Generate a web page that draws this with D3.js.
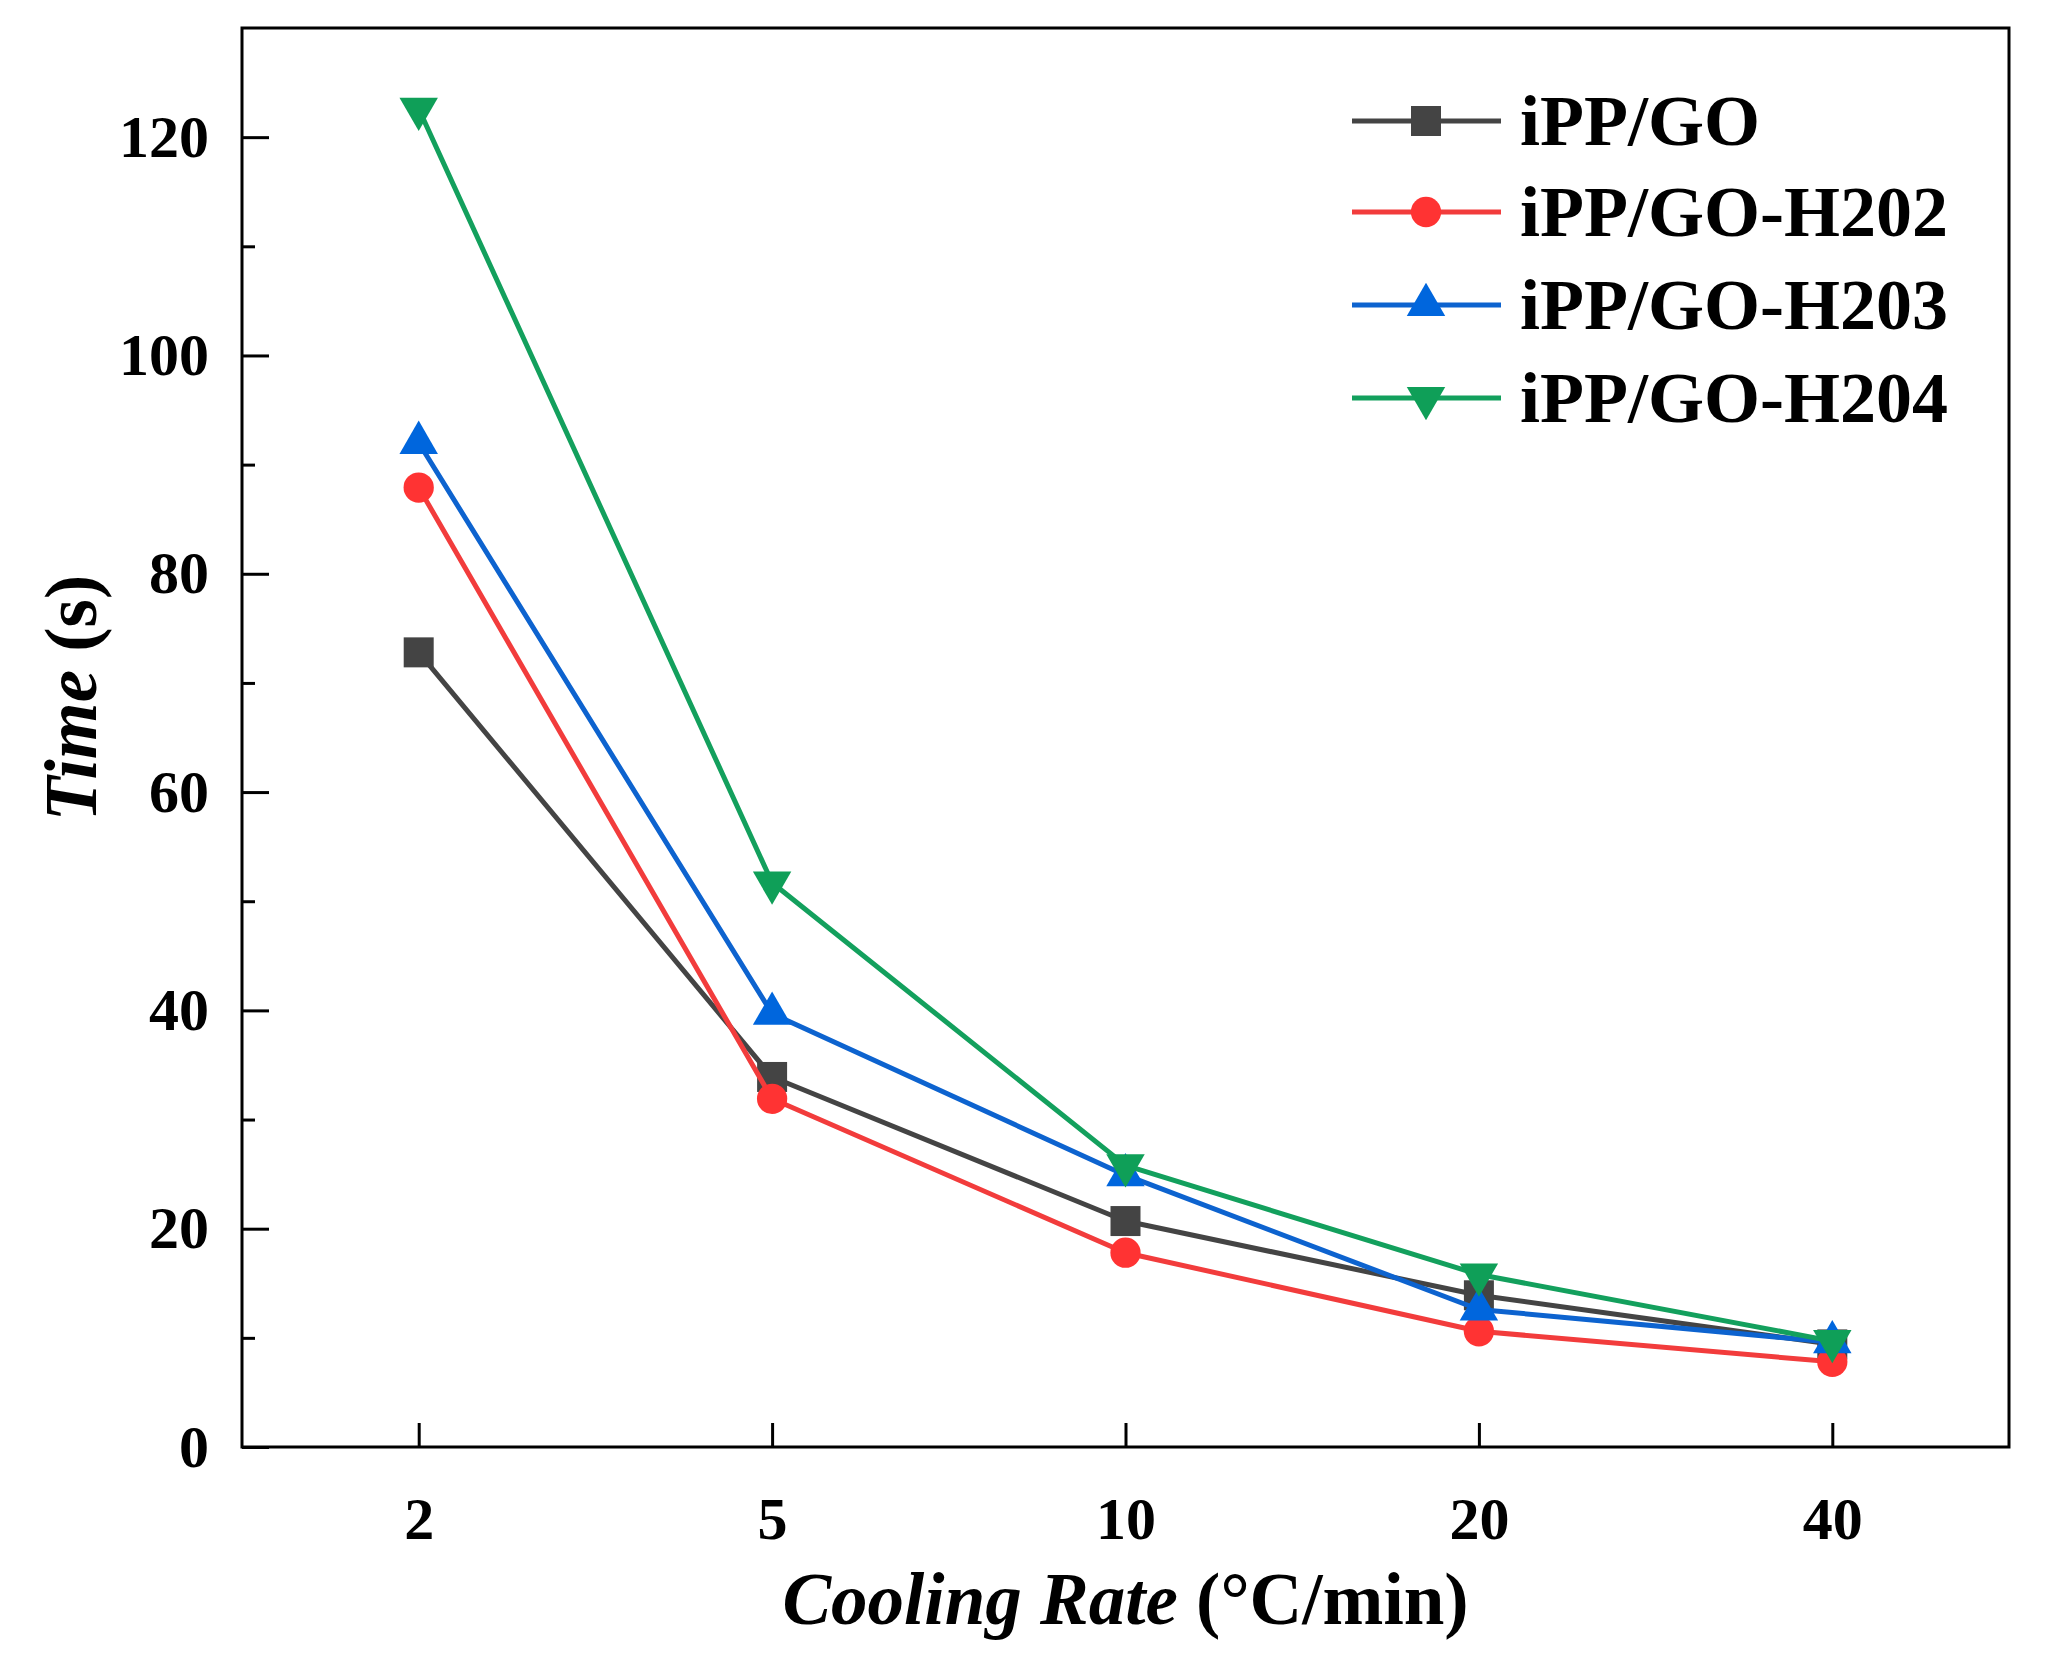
<!DOCTYPE html>
<html>
<head>
<meta charset="utf-8">
<script src="https://cdn.jsdelivr.net/npm/d3@7"></script>
<style>
  html, body { margin: 0; padding: 0; background: #fff; }
  svg { display: block; }
</style>
</head>
<body>
<svg id="chart"></svg>
<script>
// Data
const coolingRates = ["2", "5", "10", "20", "40"];
const seriesNames = ["iPP/GO", "iPP/GO-H202", "iPP/GO-H203", "iPP/GO-H204"];
const ippGo = [72.8, 33.9, 20.7, 13.9, 9.4];
const ippGoH202 = [87.9, 31.9, 17.8, 10.6, 7.8];
const ippGoH203 = [92.0, 39.7, 24.9, 12.6, 9.6];
const ippGoH204 = [122.6, 51.7, 25.8, 15.8, 9.7];
const yTicks = [0, 20, 40, 60, 80, 100, 120];
const yMinorTicks = [10, 30, 50, 70, 90, 110];

const seriesValues = [ippGo, ippGoH202, ippGoH203, ippGoH204];
const colors = ["#444444", "#f23c3c", "#0d63cf", "#13a05d"];
const markerColors = ["#444444", "#ff3333", "#0066dd", "#0f9f58"];
const shapes = ["square", "circle", "up", "down"];

const W = 2050, H = 1676;
const margin = { top: 28, right: 41, bottom: 229, left: 242 };
const width = W - margin.left - margin.right;
const height = H - margin.top - margin.bottom;
const FONT = "'Liberation Serif', 'Times New Roman', serif";

const svg = d3.select("#chart").attr("width", W).attr("height", H);
const g = svg.append("g").attr("transform", `translate(${margin.left},${margin.top})`);

// scales
const x = d3.scaleLinear().domain([0.5, coolingRates.length + 0.5]).range([0, width]);
const y = d3.scaleLinear().domain([0, 130]).range([height, 0]);

// frame
g.append("rect")
  .attr("x", 0).attr("y", 0)
  .attr("width", width).attr("height", height)
  .attr("fill", "none").attr("stroke", "#000").attr("stroke-width", 3);

// y axis ticks (inward)
const yAxis = d3.axisLeft(y).tickValues(yTicks).tickSizeInner(-27).tickSizeOuter(0).tickPadding(33);
const yAxisG = g.append("g").call(yAxis);
yAxisG.select(".domain").remove();
yAxisG.selectAll(".tick line").attr("stroke", "#000").attr("stroke-width", 3);
yAxisG.selectAll(".tick text")
  .attr("font-family", FONT).attr("font-weight", "bold").attr("font-size", 60)
  .attr("fill", "#000");

const yMinorG = g.append("g").call(
  d3.axisLeft(y).tickValues(yMinorTicks).tickSizeInner(-13).tickSizeOuter(0).tickFormat(""));
yMinorG.select(".domain").remove();
yMinorG.selectAll(".tick line").attr("stroke", "#000").attr("stroke-width", 3);

// x axis
const xAxis = d3.axisBottom(x)
  .tickValues(coolingRates.map((d, i) => i + 1))
  .tickFormat((d, i) => coolingRates[i])
  .tickSizeInner(-24).tickSizeOuter(0).tickPadding(49);
const xAxisG = g.append("g").attr("transform", `translate(0,${height})`).call(xAxis);
xAxisG.select(".domain").remove();
xAxisG.selectAll(".tick line").attr("stroke", "#000").attr("stroke-width", 3);
xAxisG.selectAll(".tick text")
  .attr("font-family", FONT).attr("font-weight", "bold").attr("font-size", 60)
  .attr("fill", "#000");

// marker drawn at the group origin
function marker(sel, shape, color) {
  let sym;
  if (shape === "square") sym = d3.symbol(d3.symbolSquare, 900);
  else if (shape === "circle") sym = d3.symbol(d3.symbolCircle, 720);
  else sym = d3.symbol(d3.symbolTriangle, 640);
  sel.append("path").attr("d", sym()).attr("fill", color);
  return sel;
}

const line = d3.line()
  .x((d, i) => x(i + 1))
  .y(d => y(d));

seriesValues.forEach((vals, s) => {
  const sg = g.append("g");
  sg.append("path")
    .datum(vals)
    .attr("fill", "none")
    .attr("stroke", colors[s])
    .attr("stroke-width", 5)
    .attr("stroke-linejoin", "round")
    .attr("d", line);

  vals.forEach((v, i) => {
    const mg = sg.append("g")
      .attr("transform", `translate(${x(i + 1)},${y(v)})${shapes[s] === "down" ? " rotate(180)" : ""}`);
    marker(mg, shapes[s], markerColors[s]);
  });
});

// legend
const legend = svg.append("g");
const legendRows = [121, 212, 305, 398];
seriesNames.forEach((name, s) => {
  const row = legend.append("g").attr("transform", `translate(0,${legendRows[s]})`);
  row.append("line")
    .attr("x1", 1352).attr("x2", 1501).attr("y1", 0).attr("y2", 0)
    .attr("stroke", colors[s]).attr("stroke-width", 5);
  const mg = row.append("g")
    .attr("transform", `translate(1426,0)${shapes[s] === "down" ? " rotate(180)" : ""}`);
  marker(mg, shapes[s], markerColors[s]);
  row.append("text")
    .attr("x", 1520).attr("y", 0).attr("dy", "0.34em")
    .attr("font-family", FONT).attr("font-weight", "bold").attr("font-size", 72)
    .attr("fill", "#000")
    .text(name);
});

// axis titles
const xTitle = svg.append("text")
  .attr("x", margin.left + width / 2).attr("y", 1624)
  .attr("text-anchor", "middle")
  .attr("font-family", FONT).attr("font-weight", "bold").attr("font-size", 73)
  .attr("fill", "#000");
xTitle.append("tspan").attr("font-style", "italic").text("Cooling Rate ");
xTitle.append("tspan").text("(°C/min)");

const yTitle = svg.append("text")
  .attr("transform", "translate(96,698) rotate(-90)")
  .attr("text-anchor", "middle")
  .attr("font-family", FONT).attr("font-weight", "bold").attr("font-size", 73)
  .attr("fill", "#000");
yTitle.append("tspan").attr("font-style", "italic").text("Time ");
yTitle.append("tspan").text("(s)");
</script>
</body>
</html>
